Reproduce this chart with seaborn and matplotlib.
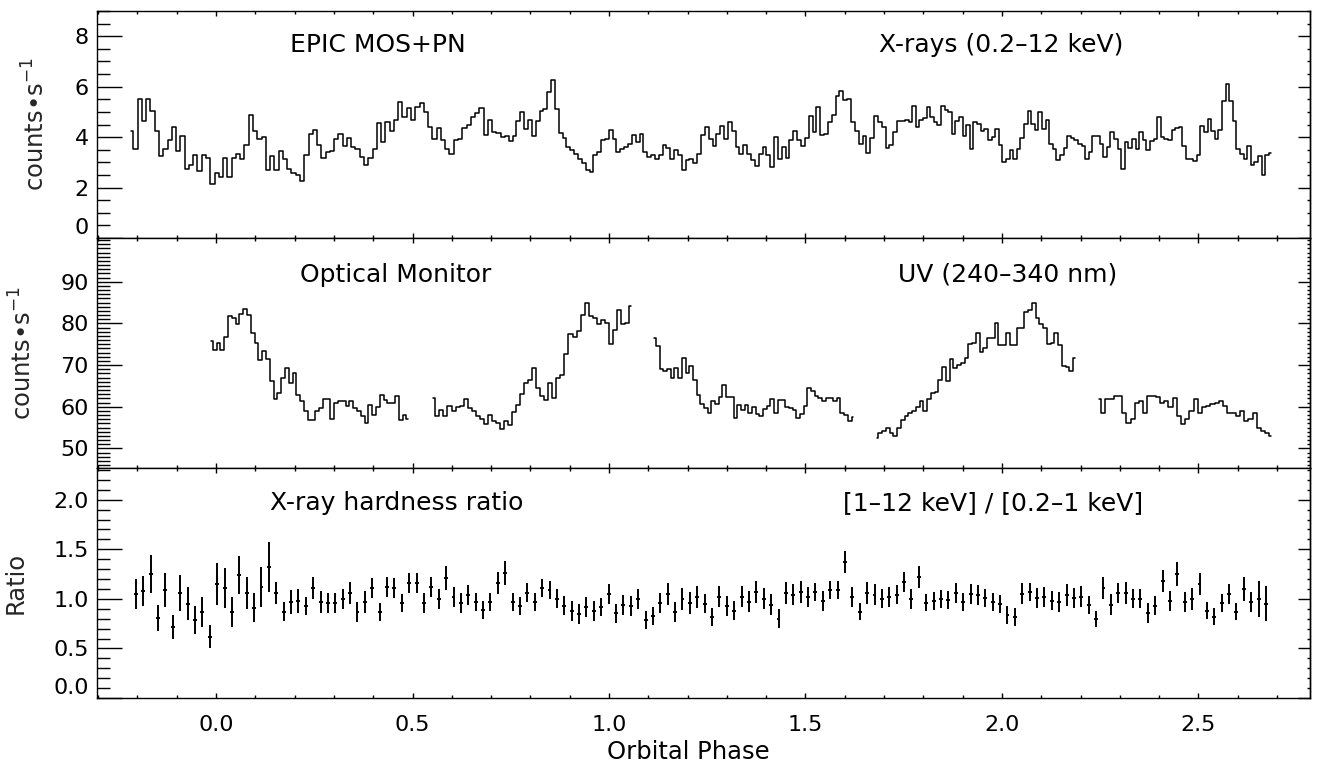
import numpy as np
import pandas as pd
import matplotlib
matplotlib.use("Agg")
import matplotlib.pyplot as plt
import seaborn as sns
from matplotlib.ticker import MultipleLocator, FixedLocator

# ---- X-ray light curve (EPIC MOS+PN), counts/s, read in three stretches ----
xray_first = [-0.216, 0.740, 1.758]
xray_last = [0.730, 1.748, 2.684]
xray_part1 = [
    4.26, 3.54, 5.53, 4.65, 5.53, 5.05, 4.26, 3.25, 3.54, 3.89, 4.42, 3.43, 4.06, 2.75, 2.91, 3.28,
    2.66, 3.28, 3.17, 2.16, 2.58, 2.42, 3.18, 2.40, 3.17, 3.34, 3.15, 3.67, 4.89, 4.26, 3.93, 4.02,
    2.69, 3.24, 2.69, 3.45, 3.15, 2.75, 2.56, 2.49, 2.25, 3.28, 4.13, 4.29, 3.70, 3.17, 3.41, 3.45,
    3.93, 4.13, 3.64, 3.97, 3.60, 3.54, 3.21, 2.91, 3.17, 3.54, 4.56, 3.80, 4.59, 4.26, 4.69, 5.40,
    4.78, 5.14, 4.69, 5.18, 5.37, 5.01, 4.39, 3.91, 4.35, 3.87, 3.54, 3.34, 3.87, 3.93, 4.36, 4.48,
    4.78, 4.94, 5.14, 4.09, 4.68, 4.22, 4.17, 4.00,
]
xray_part2 = [
    4.04, 3.83, 4.04, 4.63, 4.98, 4.33, 4.69, 4.06, 4.65, 5.05, 5.11, 5.79, 6.26, 5.11, 4.17, 3.97,
    3.60, 3.47, 3.34, 3.12, 2.99, 2.69, 2.62, 3.28, 3.41, 3.87, 3.93, 4.30, 3.93, 3.41, 3.54, 3.60,
    3.74, 4.09, 3.80, 4.13, 3.41, 3.21, 3.30, 3.15, 3.28, 3.67, 3.56, 3.15, 3.47, 3.28, 2.69, 3.11,
    3.15, 2.99, 3.34, 4.09, 4.42, 3.93, 3.64, 4.13, 4.43, 3.91, 4.59, 4.26, 3.60, 3.34, 3.67, 3.34,
    3.08, 2.86, 3.34, 3.60, 3.28, 2.82, 4.02, 3.15, 3.60, 3.18, 3.87, 4.26, 3.87, 3.64, 3.96, 4.85,
    4.22, 5.18, 4.09, 4.13, 4.59, 4.89, 5.64, 5.83, 5.48, 5.50, 4.61, 4.26, 3.74, 4.06, 3.37, 3.96,
    4.85, 4.61, 4.39, 3.56, 3.70, 4.22, 4.65, 4.65,
]
xray_part3 = [
    4.68, 4.59, 5.24, 4.39, 4.68, 4.74, 5.18, 4.78, 4.59, 4.48, 5.24, 5.09, 5.01, 4.13, 4.65, 4.81,
    4.06, 4.50, 3.54, 4.59, 4.52, 4.26, 4.33, 3.87, 4.00, 4.33, 3.67, 3.01, 3.15, 3.47, 3.15, 3.54,
    3.97, 4.52, 5.05, 4.52, 4.29, 4.98, 4.33, 4.69, 3.74, 3.51, 3.08, 3.30, 3.56, 4.04, 3.96, 3.87,
    3.74, 3.64, 3.15, 3.41, 4.06, 4.04, 3.74, 3.21, 3.60, 4.19, 3.93, 3.51, 2.75, 3.80, 3.56, 3.91,
    3.54, 4.22, 3.87, 3.47, 3.83, 3.91, 4.81, 4.00, 3.91, 3.89, 4.30, 4.35, 4.42, 3.64, 3.15, 3.15,
    3.04, 3.28, 4.46, 4.22, 4.72, 4.26, 3.91, 4.29, 5.44, 6.12, 5.44, 4.65, 3.54, 3.32, 3.15, 3.64,
    2.91, 3.01, 3.25, 2.49, 3.28, 3.37,
]

# ---- Optical Monitor UV light curve, five separate exposures ----
uv_first = [-0.013, 0.553, 1.115, 1.681, 2.247]
uv_last = [0.489, 1.056, 1.622, 2.186, 2.686]
uv_seg1 = [75.7, 73.7, 75.3, 73.6, 76.8, 81.7, 81.3, 79.8, 82.2, 83.4, 82.1, 77.7, 75.3, 71.3, 73.4,
           71.4, 66.2, 61.8, 63.3, 67.0, 69.3, 65.8, 68.0, 62.8, 61.4, 59.0, 56.8, 56.8, 58.9, 59.8,
           61.8, 61.8, 57.0, 60.8, 61.3, 61.4, 60.2, 61.4, 59.8, 58.9, 57.8, 56.0, 60.5, 58.1, 60.0,
           62.9, 61.6, 60.8, 61.0, 62.6, 56.8, 58.0, 57.0]
uv_seg2 = [62.2, 57.7, 59.2, 57.7, 60.2, 59.0, 60.0, 60.3, 61.9, 59.6, 58.9, 57.7, 57.0, 55.8,
           58.0, 56.6, 56.2, 54.6, 56.6, 55.7, 58.8, 60.4, 63.0, 65.7, 66.4, 69.3, 64.4, 62.6, 61.7,
           65.7, 62.2, 66.8, 67.7, 72.6, 77.4, 76.8, 78.1, 82.0, 84.9, 81.8, 81.4, 79.8, 80.9, 80.2,
           75.0, 78.4, 83.3, 79.8, 80.0, 84.2]
uv_seg3 = [76.5, 74.6, 69.0, 68.6, 69.0, 66.9, 69.3, 67.0, 71.8, 68.2, 69.8, 66.5, 62.8, 60.6,
           59.6, 58.6, 61.4, 60.6, 62.4, 65.2, 62.4, 62.4, 57.2, 60.5, 59.2, 60.5, 58.4, 60.0, 58.2,
           57.8, 59.4, 60.2, 61.8, 58.6, 61.6, 61.6, 60.0, 59.8, 59.3, 57.2, 58.2, 60.2, 64.4, 63.8,
           62.6, 62.2, 61.4, 62.2, 62.0, 61.4, 62.0, 58.4, 58.1, 56.6, 57.6]
uv_seg4 = [52.6, 53.8, 54.2, 55.0, 53.8, 53.0, 55.0, 56.8, 57.8, 58.4, 59.0, 60.0, 61.4, 58.9,
           61.8, 63.4, 63.6, 66.4, 69.6, 66.2, 71.4, 69.3, 70.0, 70.6, 71.6, 75.0, 75.2, 77.6, 73.2,
           74.1, 76.4, 76.5, 80.2, 74.8, 74.8, 77.7, 74.9, 74.9, 78.8, 79.0, 82.8, 83.3, 85.0, 81.4,
           79.8, 78.8, 75.0, 75.2, 77.6, 74.9, 69.8, 69.6, 68.5, 71.8]
uv_seg5 = [61.8, 58.4, 61.8, 61.8, 62.6, 62.6, 58.6, 56.0, 57.0, 61.0, 61.4, 58.6, 62.6, 62.6,
           62.3, 60.8, 61.4, 60.0, 62.0, 57.8, 55.8, 57.0, 59.0, 61.8, 58.5, 60.0, 60.3, 60.6, 61.0,
           61.3, 60.2, 58.5, 58.4, 57.8, 59.0, 56.6, 57.0, 58.4, 55.0, 54.2, 53.8, 53.0]

# ---- X-ray hardness ratio [1-12 keV]/[0.2-1 keV] with 1-sigma errors ----
hr_first, hr_last = -0.204, 2.672
hr_ratio = [
    1.05, 1.08, 1.25, 0.81, 1.09, 0.72, 1.06, 0.95, 0.785, 0.87, 0.62, 1.15, 1.11, 0.87, 1.24, 1.06,
    0.91, 1.12, 1.32, 1.06, 0.87, 0.97, 0.98, 0.93, 1.11, 0.97, 0.96, 0.96, 1.00, 1.06, 0.87, 0.97,
    1.11, 0.87, 1.12, 1.11, 0.96, 1.16, 1.16, 0.96, 1.12, 1.00, 1.21, 1.02, 0.96, 1.04, 0.97, 0.89,
    0.97, 1.16, 1.26,
    0.97, 0.93, 1.06, 0.97, 1.11, 1.09, 1.00, 0.93, 0.88, 0.845, 0.92, 0.88, 0.92, 1.05, 0.855, 0.94,
    0.93, 1.00, 0.79, 0.83, 0.96, 1.05, 0.87, 1.00, 0.96, 1.02, 0.95, 0.82, 1.02, 0.93, 0.88, 1.02,
    0.97, 1.07, 1.00, 0.94, 0.80, 1.06, 1.04, 1.07, 1.02, 1.07, 0.98, 1.09, 1.09, 1.37, 1.02, 0.87,
    1.06, 1.04, 1.00, 1.02, 1.04, 1.17,
    1.00, 1.22, 0.96, 0.98, 1.00, 0.99, 1.06, 0.97, 1.05, 1.04, 1.01, 0.97, 0.95, 0.835, 0.82, 1.05,
    1.07, 1.01, 1.02, 0.98, 0.97, 1.04, 1.01, 1.02, 0.94, 0.80, 1.11, 0.94, 1.06, 1.06, 1.00, 1.00,
    0.86, 0.93, 1.18, 0.98, 1.25, 0.97, 1.00, 1.15, 0.88, 0.82, 0.96, 1.05, 0.87, 1.10, 0.97, 1.00,
    0.95,
]
hr_err = [
    0.15, 0.15, 0.19, 0.13, 0.17, 0.12, 0.18, 0.165, 0.14, 0.15, 0.12, 0.215, 0.20, 0.15, 0.19, 0.16,
    0.146, 0.20, 0.25, 0.11, 0.096, 0.12, 0.12, 0.09, 0.115, 0.11, 0.10, 0.10, 0.10, 0.11, 0.10, 0.11,
    0.10, 0.09, 0.10, 0.10, 0.09, 0.10, 0.10, 0.10, 0.10, 0.10, 0.125, 0.10, 0.10, 0.10, 0.09, 0.09,
    0.09, 0.11, 0.12,
    0.09, 0.09, 0.095, 0.09, 0.09, 0.09, 0.095, 0.095, 0.10, 0.10, 0.10, 0.10, 0.09, 0.10, 0.095, 0.10,
    0.10, 0.10, 0.09, 0.09, 0.10, 0.11, 0.10, 0.11, 0.11, 0.11, 0.095, 0.09, 0.105, 0.10, 0.095, 0.105,
    0.105, 0.115, 0.105, 0.105, 0.095, 0.11, 0.105, 0.11, 0.10, 0.095, 0.10, 0.095, 0.095, 0.11, 0.10, 0.085,
    0.11, 0.105, 0.095, 0.10, 0.095, 0.105,
    0.10, 0.11, 0.085, 0.09, 0.09, 0.09, 0.10, 0.09, 0.10, 0.10, 0.09, 0.09, 0.09, 0.09, 0.09, 0.105,
    0.095, 0.10, 0.10, 0.095, 0.10, 0.11, 0.10, 0.105, 0.09, 0.08, 0.11, 0.105, 0.10, 0.11, 0.095, 0.095,
    0.10, 0.095, 0.115, 0.10, 0.12, 0.10, 0.11, 0.11, 0.085, 0.085, 0.09, 0.10, 0.085, 0.12, 0.10, 0.18,
    0.175,
]

# ---- build tables ----
xray_parts = []
for k, part in enumerate([xray_part1, xray_part2, xray_part3]):
    xray_parts.append(pd.DataFrame({"phase": np.linspace(xray_first[k], xray_last[k], len(part)),
                                    "rate": part}))
xray_df = pd.concat(xray_parts, ignore_index=True)

uv_parts = []
for k, seg in enumerate([uv_seg1, uv_seg2, uv_seg3, uv_seg4, uv_seg5]):
    uv_parts.append(pd.DataFrame({"phase": np.linspace(uv_first[k], uv_last[k], len(seg)),
                                  "rate": seg, "seg": k}))
uv_df = pd.concat(uv_parts, ignore_index=True)

hr_df = pd.DataFrame({"phase": np.linspace(hr_first, hr_last, len(hr_ratio)),
                      "ratio": hr_ratio, "err": hr_err})

# ---- style ----
sns.set_theme(style="ticks")
plt.rcParams["font.family"] = ["DejaVu Sans"]
plt.rcParams["axes.linewidth"] = 1.0
plt.rcParams["axes.edgecolor"] = "black"
plt.rcParams["text.color"] = "black"
plt.rcParams["xtick.color"] = "black"
plt.rcParams["ytick.color"] = "black"

fig = plt.figure(figsize=(13.2, 7.68), dpi=100)
left, right = 97 / 1320, 1310 / 1320
edges = [1 - 11 / 768, 1 - 238 / 768, 1 - 468 / 768, 1 - 698 / 768]
axes = [fig.add_axes([left, edges[i + 1], right - left, edges[i] - edges[i + 1]]) for i in range(3)]

# top panel: X-rays
sns.lineplot(data=xray_df, x="phase", y="rate", ax=axes[0], color="black",
             linewidth=1.1, drawstyle="steps-mid", estimator=None)
# middle panel: UV, one line per exposure
sns.lineplot(data=uv_df, x="phase", y="rate", units="seg", estimator=None, ax=axes[1],
             color="black", linewidth=1.1, drawstyle="steps-mid")
# bottom panel: hardness ratio
axes[2].errorbar(hr_df["phase"], hr_df["ratio"], yerr=hr_df["err"], xerr=0.005,
                 fmt="none", ecolor="black", elinewidth=1.4)

FS = 16
LS = 17.5
ylims = [(0, 9), (45.3, 100.5), (0, 2.32)]
ymajor = [[0, 2, 4, 6, 8], [50, 60, 70, 80, 90], [0.0, 0.5, 1.0, 1.5, 2.0]]
yminor = [0.5, 1, 0.1]
ylabels = ["counts\u2022s$^{-1}$", "counts\u2022s$^{-1}$", "Ratio"]
ylabel_x = [-0.0387, -0.0495, -0.0569]

for i, ax in enumerate(axes):
    ax.set_xlim(-0.303, 2.784)
    ax.set_ylim(*ylims[i])
    ax.xaxis.set_major_locator(MultipleLocator(0.5))
    ax.xaxis.set_minor_locator(MultipleLocator(0.1))
    ax.yaxis.set_major_locator(FixedLocator(ymajor[i]))
    ax.yaxis.set_minor_locator(MultipleLocator(yminor[i]))
    if i == 2:
        ax.yaxis.set_major_formatter(plt.FormatStrFormatter("%.1f"))
    ax.tick_params(axis="x", which="major", direction="in", length=3.6, width=1.0,
                   top=True, bottom=True, labelsize=FS, pad=12)
    ax.tick_params(axis="x", which="minor", direction="in", length=2.0, width=1.0,
                   top=True, bottom=True)
    ax.tick_params(axis="y", which="major", direction="in", length=18, width=1.0,
                   left=True, right=False, labelsize=FS, pad=6)
    ax.tick_params(axis="y", which="minor", direction="in", length=9, width=1.0,
                   left=True, right=False)
    sec = ax.secondary_yaxis("right")
    sec.yaxis.set_major_locator(FixedLocator(ymajor[i]))
    sec.yaxis.set_minor_locator(MultipleLocator(yminor[i]))
    sec.tick_params(axis="y", which="major", direction="in", length=8.6, width=1.0, labelright=False)
    sec.tick_params(axis="y", which="minor", direction="in", length=2.0, width=1.0)
    if i < 2:
        ax.tick_params(axis="x", labelbottom=False)
    ax.set_xlabel("")
    ax.set_ylabel(ylabels[i], fontsize=LS)
    ax.yaxis.set_label_coords(ylabel_x[i], 0.5)

# panel annotations
TS = 18
axes[0].text(0.159, 0.85, "EPIC MOS+PN", transform=axes[0].transAxes, fontsize=TS, va="center")
axes[0].text(0.645, 0.85, "X-rays (0.2\u201312 keV)", transform=axes[0].transAxes, fontsize=TS, va="center")
axes[1].text(0.167, 0.84, "Optical Monitor", transform=axes[1].transAxes, fontsize=TS, va="center")
axes[1].text(0.660, 0.84, "UV (240\u2013340 nm)", transform=axes[1].transAxes, fontsize=TS, va="center")
axes[2].text(0.143, 0.848, "X-ray hardness ratio", transform=axes[2].transAxes, fontsize=TS, va="center")
axes[2].text(0.615, 0.848, "[1\u201312 keV] / [0.2\u20131 keV]", transform=axes[2].transAxes,
             fontsize=TS, va="center")

fig.text(688 / 1320, 1 - 752 / 768, "Orbital Phase", fontsize=LS, ha="center", va="center")

fig.canvas.draw()
# lowest labels sit just above the panel boundary
for ax in axes:
    for lab in ax.get_yticklabels():
        if lab.get_position()[1] == ax.get_ylim()[0]:
            lab.set_verticalalignment("bottom")

fig.savefig("out.png", dpi=100)
